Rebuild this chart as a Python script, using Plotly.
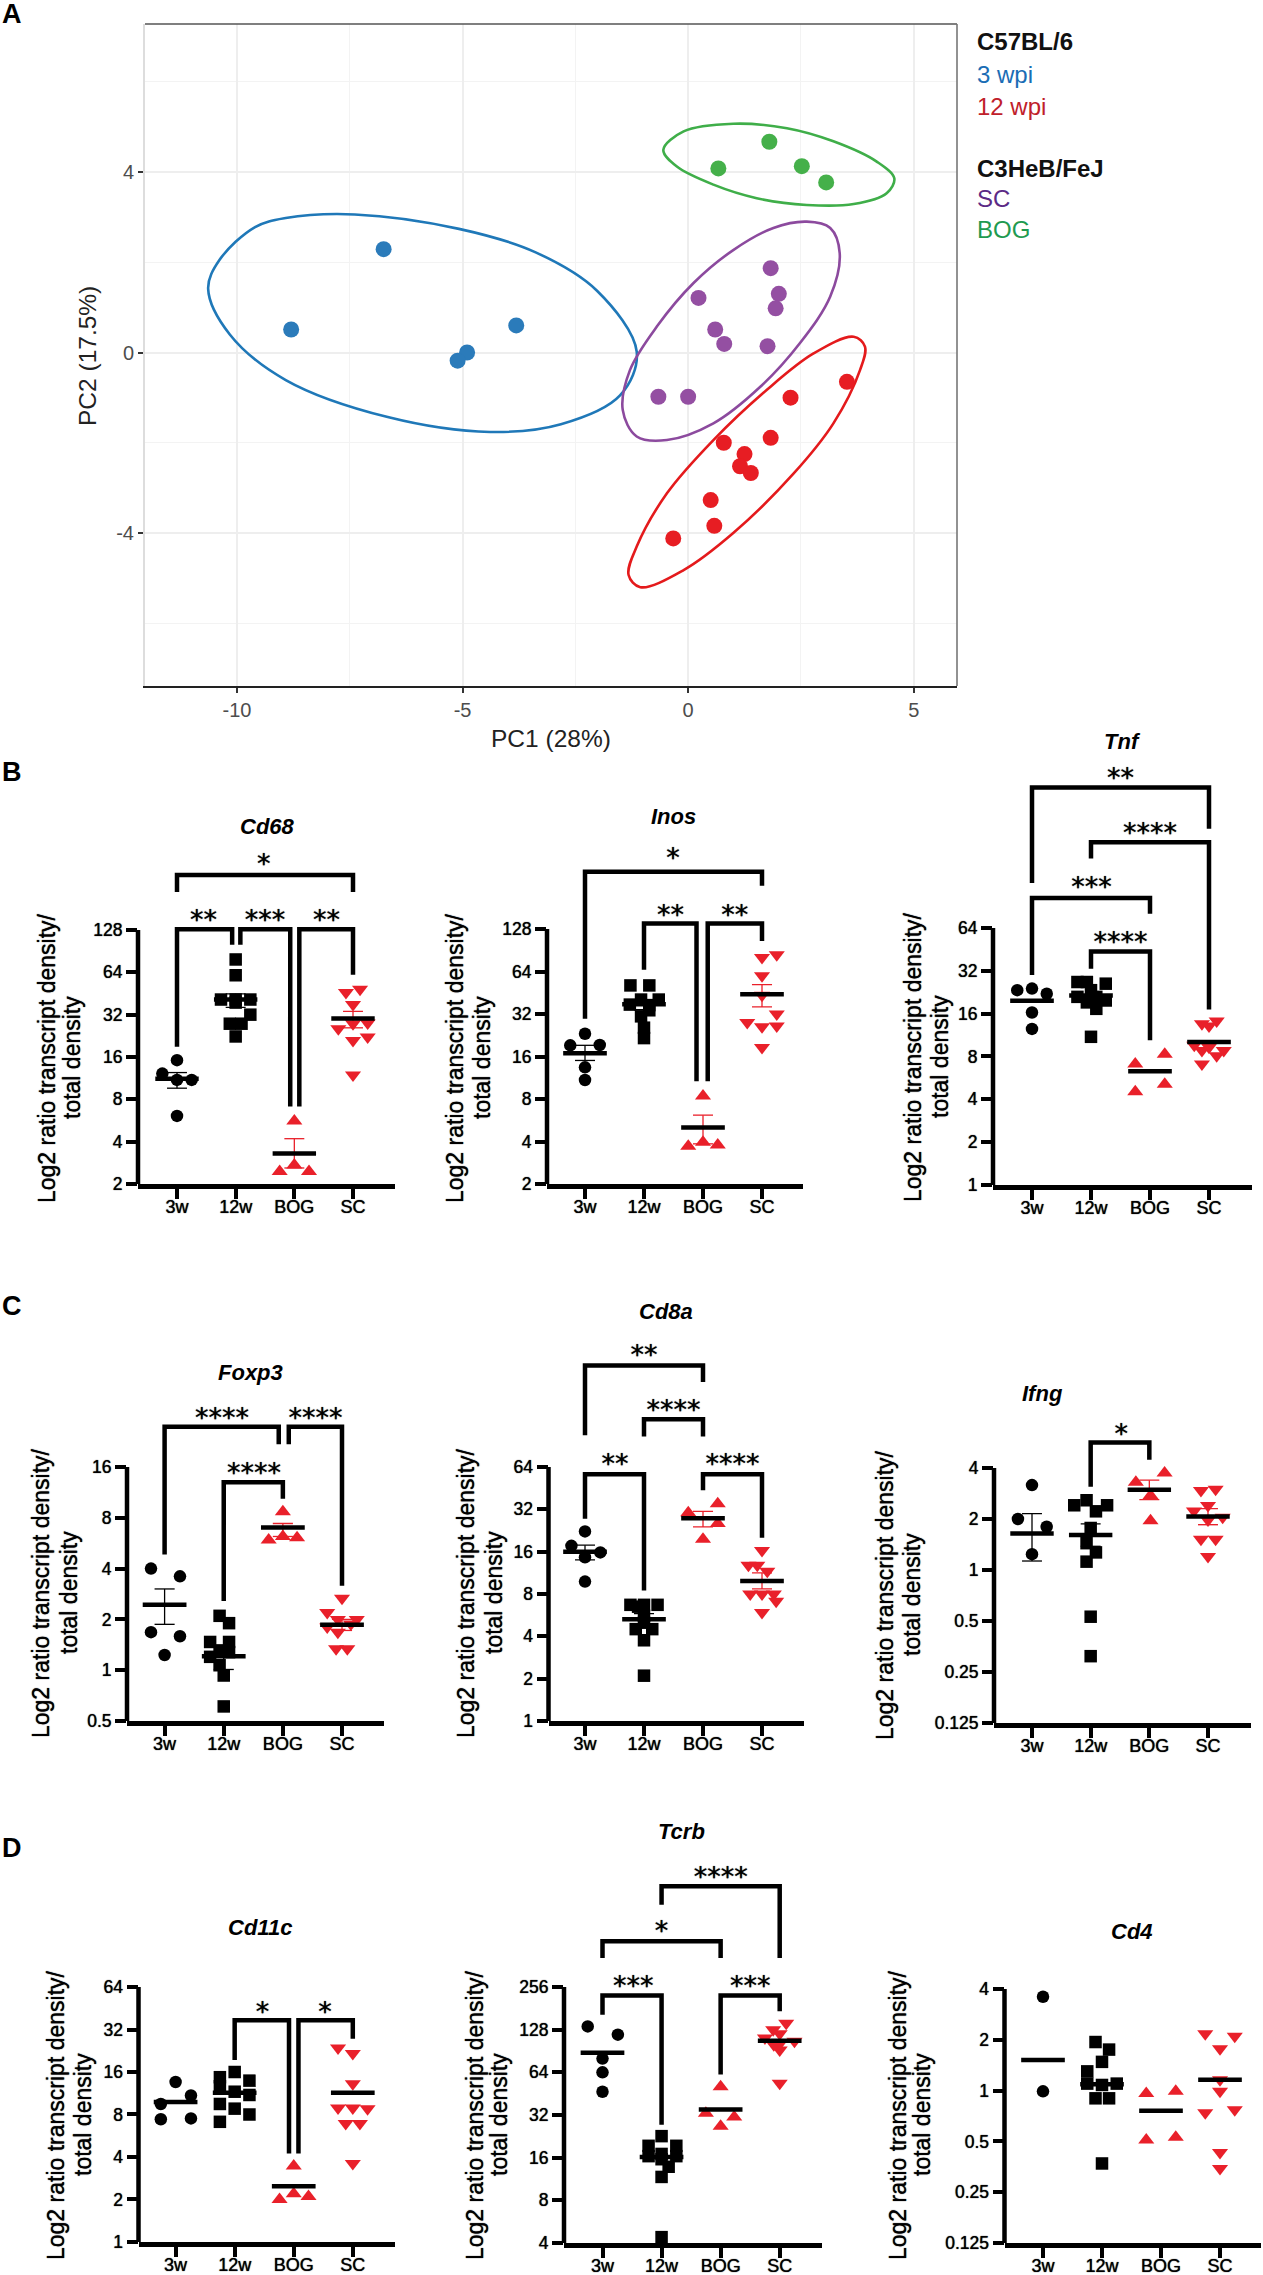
import math
import plotly.graph_objects as go

W, H = 1263, 2275
GROUPS = ['3w', '12w', 'BOG', 'SC']
RED = '#e9202a'

# panel A, PCA
PC_BLUE_X = [-8.80, -6.75, -3.81, -4.90, -5.11]
PC_BLUE_Y = [0.51, 2.29, 0.60, 0.00, -0.18]
PC_GREEN_X = [0.67, 1.80, 2.52, 3.06]
PC_GREEN_Y = [4.08, 4.67, 4.13, 3.77]
PC_PURPLE_X = [-0.66, 0.00, 0.23, 0.60, 0.80, 1.76, 1.83, 2.01, 1.94]
PC_PURPLE_Y = [-0.98, -0.98, 1.21, 0.51, 0.19, 0.14, 1.87, 1.30, 0.98]
PC_RED_X = [-0.33, 0.58, 0.50, 0.79, 1.25, 1.15, 1.39, 1.83, 2.27, 3.52]
PC_RED_Y = [-4.12, -3.84, -3.27, -2.00, -2.25, -2.52, -2.67, -1.89, -1.00, -0.65]

# ellipse outlines
ELL_BLUE_X = [-10.64, -10.16, -8.92, -6.66, -4.39, -2.82, -1.51, -1.14, -2.02, -3.38, -5.08, -7.39, -8.92, -9.6, -10.39]
ELL_BLUE_Y = [1.41, 0.40, -0.61, -1.43, -1.76, -1.59, -0.95, 0.02, 1.37, 2.22, 2.74, 3.06, 2.98, 2.78, 2.05]
ELL_GREEN_X = [-0.55, -0.25, 0.56, 1.52, 2.63, 3.67, 4.40, 4.57, 4.18, 3.22, 2.19, 1.00, -0.10]
ELL_GREEN_Y = [4.49, 4.12, 3.72, 3.42, 3.27, 3.29, 3.53, 3.86, 4.23, 4.68, 4.97, 5.07, 4.90]
ELL_PURPLE_X = [2.63, 3.15, 3.36, 3.15, 2.48, 1.60, 0.56, -0.47, -1.14, -1.45, -1.29, -0.69, 0.12, 1.00, 1.89]
ELL_PURPLE_Y = [2.90, 2.76, 2.20, 1.24, 0.21, -0.76, -1.57, -1.94, -1.86, -1.27, -0.39, 0.58, 1.54, 2.27, 2.76]
ELL_RED_X = [3.67, 3.92, 3.81, 3.22, 2.34, 1.00, -0.10, -1.06, -1.32, -1.14, -0.47, 0.56, 1.74, 2.78]
ELL_RED_Y = [0.35, 0.13, -0.39, -1.57, -2.68, -4.00, -4.82, -5.20, -4.93, -4.30, -3.12, -1.94, -0.83, -0.02]

# scatter panels: values per group, jitter in category units, mean / sem, brackets
CD68_Y = [[15.2, 12.2, 11, 11, 6.1],
          [79, 61, 41, 41, 41, 39, 32, 27.6, 27.6, 22.4],
          [5.6, 2.73, 2.45, 2.45],
          [46, 48.5, 37.8, 27.6, 27.9, 25.4, 21, 22.2, 11.9]]
CD68_DX = [[0, -0.25, 0, 0.25, 0],
           [0, 0, -0.25, 0, 0.25, 0, 0.25, -0.1, 0.1, 0],
           [0, 0, -0.25, 0.25],
           [-0.12, 0.12, 0, 0, 0.25, -0.25, 0, 0.25, 0]]
CD68_MEAN = [11.2, 41, 3.3, 30]
CD68_LO = [9.6, 36, 2.6, 25.8]
CD68_HI = [12.4, 45, 4.2, 33.8]
CD68_BR = [(0, 3, 8.30, 7.90, 7.90, '*', 1.48, 8.73),
           (0, 0.94, 7.02, 4.24, 6.65, '**', 0.45, 7.39),
           (1.08, 1.93, 7.02, 6.65, 2.83, '***', 1.5, 7.39),
           (2.085, 3, 7.02, 2.83, 5.94, '**', 2.55, 7.39)]

INOS_Y = [[23.2, 19.2, 19.3, 13.4, 10.9],
          [51, 51, 37.3, 40.5, 40.5, 37, 34, 30.8, 25.6, 21.6],
          [8.4, 3.7, 3.95, 3.78],
          [80.5, 84, 59.7, 43.4, 32, 27.9, 26, 26.3, 18.5]]
INOS_DX = [[0, -0.25, 0.25, 0, 0],
           [-0.23, 0.09, -0.24, -0.05, 0.25, 0.09, 0.09, -0.05, 0, 0],
           [0, -0.25, 0, 0.25],
           [0, 0.25, 0, 0, 0.25, -0.25, 0, 0.25, 0]]
INOS_MEAN = [16.9, 37.5, 5.03, 44.2]
INOS_LO = [15, 34.3, 3.85, 35.9]
INOS_HI = [19.2, 40.5, 6.15, 51.7]
INOS_BR = [(0, 3, 8.35, 4.89, 8.02, '*', 1.49, 8.82),
           (1, 1.89, 7.13, 6.04, 3.42, '**', 1.45, 7.49),
           (2.08, 3, 7.13, 3.42, 6.72, '**', 2.54, 7.49)]

TNF_Y = [[23.4, 24, 22.1, 16.3, 12.5],
         [26.7, 26.7, 26, 21, 23.4, 19.8, 19.2, 17.3, 11, 21],
         [7.1, 8.3, 5.1, 4.53],
         [13.6, 14.2, 13.1, 9.6, 8.8, 9.3, 8.8, 8.1, 7.1]]
TNF_DX = [[-0.25, 0, 0.25, 0, 0],
          [-0.23, -0.07, 0.25, -0.23, 0, 0.25, -0.07, 0.09, 0, 0.09],
          [-0.25, 0.25, 0.25, -0.25],
          [-0.12, 0.13, 0, -0.25, -0.12, 0, 0.25, 0.13, -0.12]]
TNF_MEAN = [19.7, 21.5, 6.3, 10.1]
TNF_LO = [None, None, None, None]
TNF_HI = [None, None, None, None]
TNF_BR = [(0, 3, 9.28, 7.05, 8.32, '**', 1.5, 9.65),
          (1, 3, 8.00, 7.62, 4.10, '****', 2.0, 8.37),
          (0, 2, 6.70, 4.90, 6.33, '***', 1.01, 7.11),
          (1, 2, 5.45, 5.05, 3.38, '****', 1.5, 5.82)]

FOXP3_Y = [[4, 3.6, 1.68, 1.59, 1.23],
           [2.1, 1.9, 1.47, 1.47, 1.31, 1.28, 1.2, 1.07, 0.93, 0.61],
           [8.7, 5.9, 6.2, 6.1],
           [2.67, 2.2, 2, 2, 1.8, 1.88, 1.68, 1.34, 1.34]]
FOXP3_DX = [[-0.23, 0.26, -0.23, 0.26, 0],
            [-0.07, 0.09, -0.23, 0.09, -0.07, 0.09, -0.23, -0.07, 0, 0],
            [0, -0.24, 0, 0.24],
            [0, -0.25, -0.07, 0.25, -0.25, 0.15, -0.07, -0.1, 0.09]]
FOXP3_MEAN = [2.44, 1.21, 7.0, 1.86]
FOXP3_LO = [1.87, 1.01, 6.2, 1.72]
FOXP3_HI = [3.03, 1.4, 7.4, 2.0]
FOXP3_BR = [(0, 1.93, 4.79, 2.28, 4.45, '****', 0.97, 5.10),
            (2.10, 3, 4.79, 4.45, 1.66, '****', 2.55, 5.10),
            (1, 2, 3.70, 1.36, 3.375, '****', 1.51, 4.01)]

CD8A_Y = [[22.3, 17.6, 15.8, 14.6, 9.8],
          [6.7, 6.7, 6.7, 5.6, 5.0, 4.5, 4.5, 3.75, 2.1, 6.5],
          [30.3, 35, 25.4, 19.6],
          [16.3, 12.8, 12.8, 11.6, 8, 8, 8, 7.1, 5.9]]
CD8A_DX = [[0, -0.23, 0.26, 0, 0],
           [-0.23, 0, 0.23, 0, 0, -0.14, 0.14, 0, 0, -0.1],
           [-0.25, 0.25, 0.25, 0],
           [0, -0.23, -0.08, 0.09, -0.2, 0, 0.2, 0.24, 0]]
CD8A_MEAN = [16, 5.3, 27.6, 9.9]
CD8A_LO = [14, 4.8, 24, 8.7]
CD8A_HI = [17.8, 5.8, 31, 11.3]
CD8A_BR = [(0, 2, 8.40, 6.75, 8.01, '**', 1.0, 8.80),
           (1, 2, 7.13, 6.72, 6.72, '****', 1.5, 7.50),
           (0, 1, 5.83, 4.78, 3.08, '**', 0.51, 6.24),
           (2, 3, 5.83, 5.45, 4.33, '****', 2.5, 6.24)]

IFNG_Y = [[3.17, 2, 1.8, 1.24],
          [2.58, 2.41, 2.41, 2.22, 1.77, 1.44, 1.27, 1.12, 0.53, 0.31],
          [3.3, 3.74, 2.75, 1.95],
          [2.95, 3.0, 2.23, 2.4, 2.05, 1.97, 1.52, 1.52, 1.2]]
IFNG_DX = [[0, -0.24, 0.25, 0],
           [-0.07, -0.28, 0.28, 0.09, 0, -0.07, 0.09, -0.07, 0, 0],
           [-0.23, 0.26, 0.02, 0.02],
           [-0.12, 0.13, -0.24, 0, 0.25, 0, -0.12, 0.13, 0]]
IFNG_MEAN = [1.64, 1.61, 2.98, 2.07]
IFNG_LO = [1.13, 1.38, 2.6, 1.85]
IFNG_HI = [2.15, 1.87, 3.39, 2.3]
IFNG_BR = [(1, 2, 2.50, 1.63, 2.16, '*', 1.52, 2.80)]

CD11C_Y = [[13.6, 10.9, 9.5, 7.4, 7.5],
           [16, 14.7, 13.9, 12.7, 11.6, 11, 9.5, 8.8, 8, 7.1],
           [3.45, 2, 2.2, 2.1],
           [23.7, 21.6, 13.2, 8.9, 8.9, 8.8, 6.9, 6.9, 3.6]]
CD11C_DX = [[0, 0.26, -0.25, -0.25, 0.26],
            [0, -0.25, 0.25, -0.25, 0, 0.25, -0.25, 0, 0.25, -0.25],
            [0, -0.24, 0, 0.25],
            [-0.25, 0, 0, -0.25, 0, 0.25, -0.12, 0.12, 0]]
CD11C_MEAN = [9.8, 11.4, 2.48, 11.4]
CD11C_LO = [None, None, None, None]
CD11C_HI = [None, None, None, None]
CD11C_BR = [(1, 1.92, 5.22, 4.28, 2.08, '*', 1.47, 5.57),
            (2.08, 3, 5.22, 2.08, 4.78, '*', 2.53, 5.57)]

TCRB_Y = [[135, 118, 80, 64, 46.7],
          [22.7, 19.4, 19.4, 17, 16.4, 16.4, 15.6, 13.8, 11.7, 4.4],
          [50.7, 32.9, 31, 26.7],
          [142, 128, 120, 112, 106, 102, 100, 92, 53.5]]
TCRB_DX = [[-0.25, 0.26, 0, 0, 0],
           [0, -0.22, 0.25, 0, -0.22, 0.25, 0, 0.12, 0, 0],
           [0, -0.25, 0.23, 0],
           [0.11, -0.11, 0, -0.25, 0.25, 0, -0.1, 0, 0]]
TCRB_MEAN = [88, 16.2, 35, 107]
TCRB_LO = [None, None, None, None]
TCRB_HI = [None, None, None, None]
TCRB_BR = [(0, 1, 7.80, 7.35, 4.77, '***', 0.52, 8.17),
           (2, 3, 7.80, 5.95, 7.43, '***', 2.5, 8.17),
           (0, 2, 9.07, 8.68, 8.68, '*', 1.0, 9.46),
           (1, 3, 10.36, 9.93, 8.68, '****', 2.0, 10.73)]

CD4_Y = [[3.6, 0.99],
         [1.94, 1.75, 1.48, 1.3, 1.1, 1.08, 1.1, 0.9, 0.9, 0.37],
         [0.96, 0.99, 0.51, 0.53],
         [2.17, 2.1, 1.77, 1.16, 0.99, 0.74, 0.77, 0.43, 0.345]]
CD4_DX = [[0, 0],
          [-0.11, 0.12, 0, -0.25, -0.25, 0, 0.25, -0.11, 0.12, 0],
          [-0.25, 0.25, -0.25, 0.25],
          [-0.25, 0.25, 0, 0, 0, -0.25, 0.25, 0, 0]]
CD4_MEAN = [1.52, 1.09, 0.76, 1.16]
CD4_LO = [None, None, None, None]
CD4_HI = [None, None, None, None]
CD4_BR = []

TICKS_2_128 = [2, 4, 8, 16, 32, 64, 128]
TICKS_1_64 = [1, 2, 4, 8, 16, 32, 64]
TICKS_05_16 = [0.5, 1, 2, 4, 8, 16]
TICKS_0125_4 = [0.125, 0.25, 0.5, 1, 2, 4]
TICKS_4_256 = [4, 8, 16, 32, 64, 128, 256]

PANELS = [
    dict(title='Cd68', Y=CD68_Y, DX=CD68_DX, mean=CD68_MEAN, lo=CD68_LO, hi=CD68_HI, br=CD68_BR, ticks=TICKS_2_128,
         left=138, right=395, top=930, bottom=1184, c0=177, c3=353, ylab=(47, 72, 1058), tpos=(267, 827)),
    dict(title='Inos', Y=INOS_Y, DX=INOS_DX, mean=INOS_MEAN, lo=INOS_LO, hi=INOS_HI, br=INOS_BR, ticks=TICKS_2_128,
         left=547, right=803, top=929, bottom=1184, c0=585, c3=762, ylab=(455, 482, 1058), tpos=(673, 816)),
    dict(title='Tnf', Y=TNF_Y, DX=TNF_DX, mean=TNF_MEAN, lo=TNF_LO, hi=TNF_HI, br=TNF_BR, ticks=TICKS_1_64,
         left=993, right=1252, top=928, bottom=1185, c0=1032, c3=1209, ylab=(913, 940, 1057), tpos=(1122, 741)),
    dict(title='Foxp3', Y=FOXP3_Y, DX=FOXP3_DX, mean=FOXP3_MEAN, lo=FOXP3_LO, hi=FOXP3_HI, br=FOXP3_BR, ticks=TICKS_05_16,
         left=127, right=384, top=1467, bottom=1721, c0=164.6, c3=342, ylab=(41, 69, 1593), tpos=(251, 1372)),
    dict(title='Cd8a', Y=CD8A_Y, DX=CD8A_DX, mean=CD8A_MEAN, lo=CD8A_LO, hi=CD8A_HI, br=CD8A_BR, ticks=TICKS_1_64,
         left=548.5, right=804, top=1467, bottom=1721, c0=585, c3=762, ylab=(466, 494, 1593), tpos=(666, 1311)),
    dict(title='Ifng', Y=IFNG_Y, DX=IFNG_DX, mean=IFNG_MEAN, lo=IFNG_LO, hi=IFNG_HI, br=IFNG_BR, ticks=TICKS_0125_4,
         left=994, right=1251, top=1468, bottom=1723, c0=1032, c3=1208, ylab=(885, 912, 1595), tpos=(1042, 1393)),
    dict(title='Cd11c', Y=CD11C_Y, DX=CD11C_DX, mean=CD11C_MEAN, lo=CD11C_LO, hi=CD11C_HI, br=CD11C_BR, ticks=TICKS_1_64,
         left=138.5, right=395, top=1987, bottom=2242, c0=175.6, c3=352.8, ylab=(56, 83, 2115), tpos=(260, 1927)),
    dict(title='Tcrb', Y=TCRB_Y, DX=TCRB_DX, mean=TCRB_MEAN, lo=TCRB_LO, hi=TCRB_HI, br=TCRB_BR, ticks=TICKS_4_256,
         left=564, right=822, top=1987, bottom=2243, c0=602.5, c3=779.7, ylab=(475, 499, 2115), tpos=(681, 1831)),
    dict(title='Cd4', Y=CD4_Y, DX=CD4_DX, mean=CD4_MEAN, lo=CD4_LO, hi=CD4_HI, br=CD4_BR, ticks=TICKS_0125_4,
         left=1004.5, right=1261, top=1989, bottom=2243, c0=1043, c3=1220, ylab=(898, 922, 2115), tpos=(1132, 1931)),
]

LEGEND_TEXT = [('C57BL/6', 42, '#111111', 'bold'), ('3 wpi', 74, '#1a6db5', 'normal'),
               ('12 wpi', 106, '#c0202a', 'normal'), ('C3HeB/FeJ', 168, '#111111', 'bold'),
               ('SC', 199, '#5b2a86', 'normal'), ('BOG', 230, '#1f9a50', 'normal')]
PANEL_LETTERS = [('A', 14), ('B', 772), ('C', 1306), ('D', 1848)]
STAR_SHIFT = 9   # asterisk glyphs sit high in the line box
THICK = '0 0 1px #000'


def px(x):
    return x / W


def py(y):
    return 1 - y / H


def text(fig, s, x, y, size, color='#000000', bold=False, italic=False, angle=0, shadow='none'):
    fig.add_annotation(text=s, x=px(x), y=py(y), xref='paper', yref='paper', showarrow=False, textangle=angle,
                       xanchor='center', yanchor='middle',
                       font=dict(size=size, color=color, family='Liberation Sans', weight='bold' if bold else 'normal',
                                 style='italic' if italic else 'normal', shadow=shadow))


fig = go.Figure()

# panel A
A_LEFT, A_RIGHT, A_TOP, A_BOTTOM = 145, 957, 24, 686
for ex, ey, color in [(ELL_BLUE_X, ELL_BLUE_Y, '#1f78b8'), (ELL_GREEN_X, ELL_GREEN_Y, '#3fae49'),
                      (ELL_PURPLE_X, ELL_PURPLE_Y, '#8c4a9e'), (ELL_RED_X, ELL_RED_Y, '#e41a1c')]:
    fig.add_trace(go.Scatter(x=ex + ex[:1], y=ey + ey[:1], mode='lines', line=dict(color=color, width=2.6, shape='spline', smoothing=1),
                             showlegend=False, hoverinfo='skip'))
for sx, sy, color in [(PC_BLUE_X, PC_BLUE_Y, '#2b7bba'), (PC_GREEN_X, PC_GREEN_Y, '#45b04a'),
                      (PC_PURPLE_X, PC_PURPLE_Y, '#944fa2'), (PC_RED_X, PC_RED_Y, '#e71d23')]:
    fig.add_trace(go.Scatter(x=sx, y=sy, mode='markers', marker=dict(color=color, size=16), showlegend=False))

fig.update_layout(
    xaxis=dict(domain=[px(A_LEFT), px(A_RIGHT)], range=[-12.04, 5.96], tickvals=[-10, -5, 0, 5], ticktext=['-10', '-5', '0', '5'],
               ticks='outside', ticklen=5, tickwidth=1.5, tickcolor='#333333', showline=True, linecolor='#222222', linewidth=2,
               gridcolor='#eeeeee', gridwidth=1.6, zeroline=False, tickfont=dict(size=20, color='#4d4d4d', family='Liberation Sans'),
               minor=dict(tickvals=[-7.5, -2.5, 2.5], showgrid=True, gridcolor='#f3f3f3', gridwidth=1, ticks='')),
    yaxis=dict(domain=[py(A_BOTTOM), py(A_TOP)], range=[-7.39, 7.28], tickvals=[-4, 0, 4], ticktext=['-4', '0', '4'],
               ticks='outside', ticklen=5, tickwidth=1.5, tickcolor='#333333', showline=True, linecolor='#dddddd', linewidth=2,
               gridcolor='#eeeeee', gridwidth=1.6, zeroline=False, tickfont=dict(size=20, color='#4d4d4d', family='Liberation Sans'),
               minor=dict(tickvals=[-6, -2, 2, 6], showgrid=True, gridcolor='#f3f3f3', gridwidth=1, ticks='')),
)
fig.add_shape(type='line', xref='x domain', yref='y domain', x0=0, x1=1, y0=1, y1=1, line=dict(color='#555555', width=1.6))
fig.add_shape(type='line', xref='x domain', yref='y domain', x0=1, x1=1, y0=0, y1=1, line=dict(color='#777777', width=1.6))
text(fig, 'PC1 (28%)', 551, 738, 24.5, color='#222222')
text(fig, 'PC2 (17.5%)', 87, 356, 24.5, color='#222222', angle=-90)
for s, y, color, weight in LEGEND_TEXT:
    fig.add_annotation(text=s, x=px(975), y=py(y), xref='paper', yref='paper', showarrow=False, xanchor='left', yanchor='middle',
                       font=dict(size=24, color=color, family='Liberation Sans', weight=weight))
for s, y in PANEL_LETTERS:
    text(fig, s, 12, y, 27, bold=True)

# scatter panels
MARKERS = [('circle', '#000000', 12.5), ('square', '#000000', 12.5), ('triangle-up', RED, 14), ('triangle-down', RED, 14)]
for n, p in enumerate(PANELS):
    ax = n + 2
    xref, yref = f'x{ax}', f'y{ax}'
    unit = (p['c3'] - p['c0']) / 3
    oct_px = (p['bottom'] - p['top']) / (len(p['ticks']) - 1)
    lo_l, hi_l = math.log2(p['ticks'][0]), math.log2(p['ticks'][-1])
    # the y axis runs on above the top tick, so that the brackets stay inside its range
    top_l = max([hi_l] + [b[7] + 0.6 for b in p['br']])
    top_px = p['top'] - (top_l - hi_l) * oct_px

    for g in range(4):
        symbol, color, size = MARKERS[g]
        xs = [g + d for d in p['DX'][g]]
        fig.add_trace(go.Scatter(x=xs, y=p['Y'][g], mode='markers', xaxis=xref, yaxis=yref, showlegend=False, cliponaxis=False,
                                 marker=dict(symbol=symbol, color=color, size=size)))
    for g in range(4):
        color = MARKERS[g][1]
        if p['lo'][g] is not None:
            ex = [g, g, None, g - 0.17, g + 0.17, None, g - 0.17, g + 0.17]
            ey = [p['lo'][g], p['hi'][g], None, p['lo'][g], p['lo'][g], None, p['hi'][g], p['hi'][g]]
            fig.add_trace(go.Scatter(x=ex, y=ey, mode='lines', xaxis=xref, yaxis=yref, showlegend=False,
                                     line=dict(color=color, width=1.3), hoverinfo='skip'))
        fig.add_trace(go.Scatter(x=[g - 0.37, g + 0.37], y=[p['mean'][g], p['mean'][g]], mode='lines', xaxis=xref, yaxis=yref,
                                 showlegend=False, line=dict(color='#000000', width=4.5), hoverinfo='skip'))
    for x0, x1, top, left_end, right_end, stars, sx, sl in p['br']:
        fig.add_trace(go.Scatter(x=[x0, x0, x1, x1], y=[2 ** left_end, 2 ** top, 2 ** top, 2 ** right_end], mode='lines',
                                 xaxis=xref, yaxis=yref, showlegend=False, hoverinfo='skip',
                                 line=dict(color='#000000', width=4.5)))
        fig.add_trace(go.Scatter(x=[sx], y=[2 ** (sl - STAR_SHIFT / oct_px)], mode='text', text=[stars], textposition='middle center',
                                 xaxis=xref, yaxis=yref, showlegend=False, cliponaxis=False, hoverinfo='skip',
                                 textfont=dict(size=27, color='#000000', family='DejaVu Sans', shadow=THICK)))

    fig.update_layout(**{
        f'xaxis{ax}': dict(domain=[px(p['left']), px(p['right'])], anchor=yref,
                           range=[(p['left'] - p['c0']) / unit, (p['right'] - p['c0']) / unit],
                           tickvals=[0, 1, 2, 3], ticktext=GROUPS, ticks='outside', ticklen=10, tickwidth=4, tickcolor='#000000',
                           ticklabelstandoff=-7,
                           showline=True, linecolor='#000000', linewidth=4.5, showgrid=False, zeroline=False,
                           tickfont=dict(size=18, color='#000000', family='Liberation Sans', shadow=THICK)),
        f'yaxis{ax}': dict(domain=[py(p['bottom']), py(top_px)], anchor=xref, type='log',
                           range=[lo_l * math.log10(2), top_l * math.log10(2)],
                           tickvals=p['ticks'], ticktext=[str(t) for t in p['ticks']], ticks='outside', ticklen=11, tickwidth=4,
                           tickcolor='#000000', showline=False, showgrid=False, zeroline=False,
                           tickfont=dict(size=17.5, color='#000000', family='Liberation Sans', shadow=THICK)),
    })
    # y axis line stops at the top tick
    fig.add_shape(type='line', xref=f'{xref} domain', yref=f'{yref} domain', x0=0, x1=0, y0=0,
                  y1=(hi_l - lo_l) / (top_l - lo_l), line=dict(color='#000000', width=4.5))
    text(fig, p['title'], p['tpos'][0], p['tpos'][1], 22, bold=True, italic=True)
    text(fig, 'Log2 ratio transcript density/', p['ylab'][0], p['ylab'][2], 23, angle=-90, shadow=THICK)
    text(fig, 'total density', p['ylab'][1], p['ylab'][2], 23, angle=-90, shadow=THICK)

fig.update_layout(width=W, height=H, margin=dict(l=0, r=0, t=0, b=0, autoexpand=False), autosize=False,
                  paper_bgcolor='rgba(0,0,0,0)', plot_bgcolor='rgba(0,0,0,0)', showlegend=False)

fig.write_html("out.html", config={'displayModeBar': False},
               post_script="document.body.style.margin='0';document.documentElement.style.margin='0';")
